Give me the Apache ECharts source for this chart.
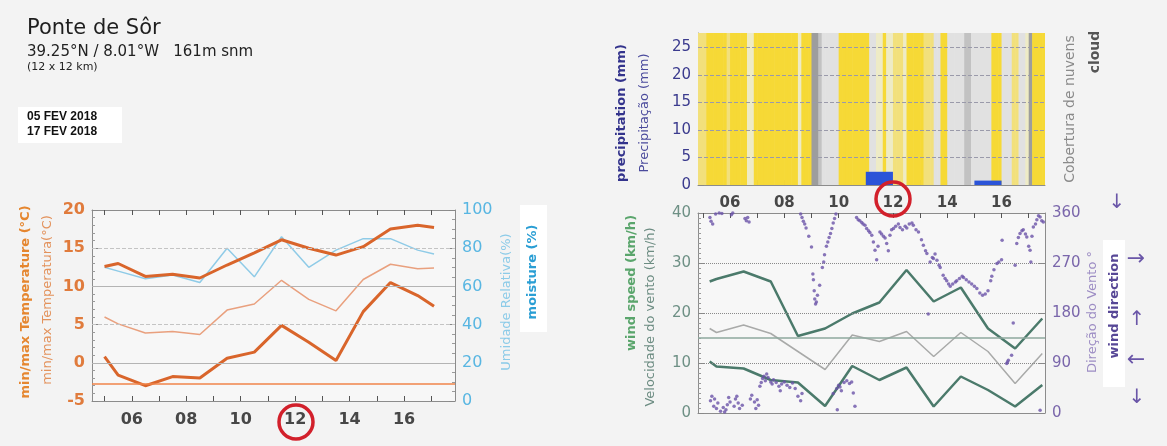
<!DOCTYPE html>
<html>
<head>
<meta charset="utf-8">
<script src="https://cdn.jsdelivr.net/npm/echarts@6/dist/echarts.min.js"></script>
<style>
html,body{margin:0;padding:0;background:#f3f3f3;}
#meteo{width:1167px;height:446px;}
</style>
</head>
<body>
<div id="meteo"></div>
<script>
// eixo dos dias (05..17 FEV)
var dayTicks = [5,6,7,8,9,10,11,12,13,14,15,16,17];
var dayLabels = [6,8,10,12,14,16];

// temperatura (°C) e umidade (%)
var tempDays = [5.0, 5.5, 6.5, 7.5, 8.5, 9.5, 10.5, 11.5, 12.5, 13.5, 14.5, 15.5, 16.5, 17.1];
var tempMax  = [12.6, 13.0, 11.3, 11.6, 11.1, 12.8, 14.4, 16.1, 15.0, 14.1, 15.2, 17.5, 18.0, 17.7];
var tempMean = [6.0, 5.1, 3.9, 4.1, 3.7, 6.9, 7.7, 10.8, 8.3, 6.8, 10.9, 12.9, 12.3, 12.4];
var tempMin  = [0.8, -1.6, -3.0, -1.8, -2.0, 0.6, 1.4, 4.9, 2.7, 0.3, 6.7, 10.5, 8.8, 7.4];
var humidity = [70, 68, 64, 66, 62, 80, 65, 86, 70, 79, 85, 85, 79, 77];
var frostLine = -2.8;

// vento (km/h)
var windDays = [5.25, 5.5, 6.5, 7.5, 8.5, 9.5, 10.5, 11.5, 12.5, 13.5, 14.5, 15.5, 16.5, 17.5];
var windMax  = [26.3, 26.8, 28.3, 26.3, 15.4, 16.9, 19.9, 22.1, 28.6, 22.3, 25.1, 16.9, 12.9, 18.9];
var windMean = [16.9, 16.1, 17.6, 15.9, 12.3, 8.7, 15.6, 14.3, 16.3, 11.3, 16.1, 12.3, 5.9, 11.9];
var windMin  = [10.3, 9.3, 8.9, 6.6, 6.1, 1.4, 9.4, 6.6, 9.1, 1.3, 7.3, 4.6, 1.3, 5.6];
var windRef = 15;

// direcao do vento [dia, graus]
var windDir = [
	[5.26,352],[5.28,22],[5.3,345],[5.33,30],[5.36,340],[5.4,12],[5.43,25],[5.47,358],[5.5,8],[5.55,18],
	[5.6,360],[5.65,3],[5.7,359],[5.75,10],[5.8,2],[5.85,6],[5.9,15],[5.95,28],[6.0,20],[6.05,357],
	[6.1,360],[6.15,12],[6.2,25],[6.25,30],[6.3,18],[6.35,8],[6.45,14],[6.55,350],[6.6,346],[6.65,352],
	[6.7,344],[6.75,25],[6.8,32],[6.9,20],[6.95,8],[7.0,24],[7.05,14],
	[7.1,48],[7.15,55],[7.2,62],[7.25,66],[7.3,58],[7.35,70],[7.4,64],[7.5,56],[7.55,52],[7.6,60],
	[7.7,55],[7.8,48],[7.85,40],[7.9,52],[8.0,56],[8.1,50],[8.2,46],[8.3,54],[8.4,44],[8.5,30],[8.6,22],[8.65,35],
	[8.6,358],[8.65,352],[8.7,345],[8.75,340],[8.8,333],[8.9,318],[9.0,299],[9.05,250],[9.07,240],[9.1,220],
	[9.12,205],[9.15,196],[9.18,200],[9.22,212],[9.3,230],[9.4,262],[9.45,272],[9.48,285],
	[9.55,300],[9.6,308],[9.65,316],[9.7,323],[9.75,332],[9.8,342],[9.85,350],[9.9,358],
	[9.8,35],[9.93,44],[9.95,6],[10.0,50],[10.05,47],[10.1,40],[10.2,55],[10.3,58],[10.4,53],[10.48,56],[10.54,36],[10.6,12],
	[10.66,352],[10.72,348],[10.78,346],[10.85,343],[10.9,340],[10.97,338],[11.03,332],[11.1,328],[11.15,325],[11.22,320],
	[11.28,308],[11.34,293],[11.4,276],[11.45,300],[11.52,326],[11.58,322],[11.65,318],[11.71,315],[11.77,305],[11.83,292],
	[11.89,320],[11.95,330],[12.02,332],[12.1,336],[12.2,340],[12.26,334],[12.35,330],[12.45,336],[12.51,333],[12.6,340],
	[12.7,342],[12.75,338],[12.85,330],[12.94,326],[13.05,312],[13.12,302],[13.2,292],[13.25,287],[13.3,178],[13.37,272],
	[13.45,280],[13.49,278],[13.55,286],[13.62,275],[13.7,266],[13.74,262],[13.85,248],[13.92,242],[13.98,238],[14.05,232],
	[14.11,228],[14.2,232],[14.3,236],[14.35,238],[14.45,242],[14.55,246],[14.6,244],[14.7,240],[14.8,236],[14.9,232],
	[15.0,228],[15.09,224],[15.2,216],[15.3,212],[15.4,214],[15.5,220],[15.6,238],[15.64,246],[15.72,258],[15.83,269],
	[15.9,272],[16.0,276],[16.02,311],[16.19,89],[16.22,92],[16.25,95],[16.37,104],[16.43,162],[16.5,266],[16.56,305],
	[16.62,316],[16.68,323],[16.75,328],[16.8,330],[16.88,322],[16.93,317],[17.0,300],[17.05,293],[17.08,272],[17.12,318],
	[17.17,335],[17.25,340],[17.3,348],[17.36,355],[17.42,353],[17.48,346],[17.54,344],[17.42,5]
];

// precipitacao diaria (mm)
var rainDays = [11, 15];
var rainMm = [2.4, 0.8];
var rainTop = 27.6;

// cobertura de nuvens (%) em passos de 3h a partir de 4.75
var cloudStart = 4.75;
var cloudStep = 0.125;
var cloudCover = [
	20,20,20,0,0,0,0,0,0,20, 0,0,0,0,0, 40,40,
	0,0,0,0,0,0,0,0,0,0,0,0,0, 40, 0,0,0, 100,100, 80, 60,60,60,60,60,
	0,0,0,0,0,0,0,0,0, 60,60, 40,40, 0, 40,40, 20,20,20, 40, 0,0,0,0,0,
	20,20,20, 60,60, 0,0, 60,60,60,60,60, 80,80, 60,60,60,60,60,60,
	0,0,0, 60,60,60, 20,20, 60,60, 40, 100, 0,0,0,0
];

function pad2(v){
	return (v < 10 ? '0' : '') + v;
}
function pairs(xs, ys){
	var out = [];
	for(var i = 0; i < xs.length; i++){
		out.push([xs[i], ys[i]]);
	}
	return out;
}
function cloudColor(c){
	if(c >= 100) return '#9d9d9d';
	if(c >= 80) return '#c2c2c2';
	if(c >= 60) return '#e1e1e1';
	if(c >= 40) return '#eeebc6';
	if(c >= 20) return '#f2e07c';
	return '#f6d936';
}

var cloudData = [];
for(var i = 0; i < cloudCover.length; i++){
	var s = cloudStart + i * cloudStep;
	cloudData.push([s, s + cloudStep, cloudCover[i]]);
}
var rainData = [];
for(var j = 0; j < rainDays.length; j++){
	rainData.push([rainDays[j], rainDays[j] + 1, rainMm[j]]);
}

function clipTo(rect, params){
	var cs = params.coordSys;
	return echarts.graphic.clipRectByRect(rect, {x: cs.x, y: cs.y, width: cs.width, height: cs.height});
}
function renderCloud(params, api){
	var p0 = api.coord([api.value(0), rainTop]);
	var p1 = api.coord([api.value(1), 0]);
	var rect = clipTo({x: p0[0], y: p0[1], width: p1[0] - p0[0] + 0.6, height: p1[1] - p0[1]}, params);
	return rect && {type: 'rect', shape: rect, style: {fill: cloudColor(api.value(2))}};
}
function renderRain(params, api){
	var p0 = api.coord([api.value(0), api.value(2)]);
	var p1 = api.coord([api.value(1), 0]);
	var rect = clipTo({x: p0[0], y: p0[1], width: p1[0] - p0[0], height: p1[1] - p0[1]}, params);
	return rect && {type: 'rect', shape: rect, style: {fill: '#2b54d8'}};
}

function dayAxis(grid, pos, min, max, labels, size){
	return {
		type: 'value', gridIndex: grid, position: pos, min: min, max: max,
		axisLine: {show: true, onZero: false, lineStyle: {color: '#8c8c8c', width: 1}},
		axisTick: {show: true, inside: true, length: 5, customValues: dayTicks, lineStyle: {color: '#555'}},
		axisLabel: {show: labels, customValues: dayLabels, formatter: pad2, color: '#474747',
			fontSize: size, fontWeight: 'bold', fontFamily: 'DejaVu Sans', margin: 11},
		splitLine: {show: false}
	};
}
function valAxis(grid, pos, min, max, interval, minor, color, size, bold){
	return {
		type: 'value', gridIndex: grid, position: pos, min: min, max: max, interval: interval,
		axisLine: {show: true, lineStyle: {color: '#8c8c8c'}},
		axisTick: {show: true, inside: true, length: 6, lineStyle: {color: '#888'}},
		minorTick: {show: minor > 0, splitNumber: minor || 5, length: 3, lineStyle: {color: '#9a9a9a'}},
		axisLabel: {color: color, fontSize: size, fontWeight: bold ? 'bold' : 'normal', fontFamily: 'DejaVu Sans', margin: 7},
		splitLine: {show: false}
	};
}
function hLine(v, color, type, width){
	return {yAxis: v, lineStyle: {color: color, type: type, width: width}};
}
function txt(x, y, text, font, fill, rot){
	return {
		type: 'text', x: x, y: y, rotation: rot ? Math.PI / 2 : 0, silent: true, z: 20,
		style: {text: text, font: font, fill: fill, align: 'center', verticalAlign: 'middle',
			textAlign: 'center', textVerticalAlign: 'middle'}
	};
}
function leftTxt(x, y, text, font, fill){
	var t = txt(x, y, text, font, fill, false);
	t.style.align = 'left';
	t.style.textAlign = 'left';
	return t;
}
function box(x, y, w, h, fill){
	return {type: 'rect', shape: {x: x, y: y, width: w, height: h}, style: {fill: fill}, silent: true, z: 10};
}
function ring(x, y){
	return {type: 'circle', shape: {cx: x, cy: y, r: 17}, style: {fill: 'none', stroke: '#d2202b', lineWidth: 3.5}, silent: true, z: 30};
}

var ax4 = dayAxis(2, 'bottom', 4.82, 17.6, false, 15);
ax4.axisTick.show = false;
var precipY = valAxis(1, 'left', 0, rainTop, 5, 5, '#3b3b8e', 15, false);
precipY.axisLabel.formatter = function(v){ return v % 5 === 0 ? v : ''; };

var myChart = echarts.init(document.getElementById('meteo'));
var option = {
	backgroundColor: '#f3f3f3',
	animation: false,
	grid: [
		{left: 92, top: 210, width: 363, height: 191, show: true, backgroundColor: '#f7f7f7', borderWidth: 0, outerBoundsMode: 'none'},
		{left: 698, top: 33, width: 347, height: 152, show: true, backgroundColor: '#f7f7f7', borderWidth: 0, outerBoundsMode: 'none'},
		{left: 698, top: 213, width: 347, height: 200, show: true, backgroundColor: '#f7f7f7', borderWidth: 0, outerBoundsMode: 'none'}
	],
	xAxis: [
		dayAxis(0, 'bottom', 4.54, 17.87, true, 16),
		dayAxis(0, 'top', 4.54, 17.87, false, 16),
		dayAxis(1, 'bottom', 4.82, 17.6, true, 15),
		dayAxis(2, 'top', 4.82, 17.6, false, 15),
		ax4
	],
	yAxis: [
		valAxis(0, 'left', -5, 20, 5, 5, '#e07b3c', 16, true),
		valAxis(0, 'right', 0, 100, 20, 4, '#58b6e2', 16, false),
		precipY,
		valAxis(2, 'left', 0, 40, 10, 10, '#6e9085', 15, false),
		valAxis(2, 'right', 0, 360, 90, 0, '#7a66ab', 15, false)
	],
	series: [
		// temperatura
		{type: 'line', xAxisIndex: 0, yAxisIndex: 1, data: pairs(tempDays, humidity), showSymbol: false,
			lineStyle: {color: '#8fcbe7', width: 1.5}, z: 2},
		{type: 'line', xAxisIndex: 0, yAxisIndex: 0, data: pairs(tempDays, tempMean), showSymbol: false,
			lineStyle: {color: '#e9a07e', width: 1.5}, z: 3},
		{type: 'line', xAxisIndex: 0, yAxisIndex: 0, data: pairs(tempDays, tempMax), showSymbol: false,
			lineStyle: {color: '#d9652b', width: 3}, z: 4,
			markLine: {silent: true, symbol: ['none', 'none'], label: {show: false}, animation: false,
				data: [hLine(15, '#c4c4c4', 'dashed', 1), hLine(5, '#c4c4c4', 'dashed', 1),
					hLine(10, '#b4b4b4', 'solid', 1), hLine(0, '#b4b4b4', 'solid', 1),
					hLine(frostLine, '#f0854a', 'solid', 1.5)]}},
		{type: 'line', xAxisIndex: 0, yAxisIndex: 0, data: pairs(tempDays, tempMin), showSymbol: false,
			lineStyle: {color: '#d9652b', width: 3}, z: 4},
		// nuvens e precipitacao
		{type: 'custom', xAxisIndex: 2, yAxisIndex: 2, data: cloudData, renderItem: renderCloud, z: 1, silent: true},
		{type: 'custom', xAxisIndex: 2, yAxisIndex: 2, data: rainData, renderItem: renderRain, z: 3, silent: true,
			markLine: {silent: true, symbol: ['none', 'none'], label: {show: false}, animation: false,
				data: [hLine(5, '#9a9aaa', 'dashed', 1), hLine(10, '#9a9aaa', 'dashed', 1), hLine(15, '#9a9aaa', 'dashed', 1),
					hLine(20, '#9a9aaa', 'dashed', 1), hLine(25, '#9a9aaa', 'dashed', 1)]}},
		// vento
		{type: 'line', xAxisIndex: 4, yAxisIndex: 3, data: pairs(windDays, windMean), showSymbol: false,
			lineStyle: {color: '#a9aaa9', width: 1.5}, z: 3,
			markLine: {silent: true, symbol: ['none', 'none'], label: {show: false}, animation: false,
				data: [hLine(10, '#8a8a8a', 'dotted', 1), hLine(20, '#8a8a8a', 'dotted', 1), hLine(30, '#8a8a8a', 'dotted', 1),
					hLine(windRef, '#8ea89e', 'solid', 1.5)]}},
		{type: 'line', xAxisIndex: 4, yAxisIndex: 3, data: pairs(windDays, windMax), showSymbol: false,
			lineStyle: {color: '#4b7a6b', width: 2.5}, z: 4},
		{type: 'line', xAxisIndex: 4, yAxisIndex: 3, data: pairs(windDays, windMin), showSymbol: false,
			lineStyle: {color: '#4b7a6b', width: 2.5}, z: 4},
		{type: 'scatter', xAxisIndex: 4, yAxisIndex: 4, data: windDir, symbolSize: 3.5,
			itemStyle: {color: '#6a53a8'}, z: 5, silent: true}
	],
	graphic: [
		leftTxt(27, 29, 'Ponte de Sôr', '21px DejaVu Sans', '#1e1e1e'),
		leftTxt(27, 52, '39.25°N / 8.01°W   161m snm', '15px DejaVu Sans', '#222'),
		leftTxt(27, 67, '(12 x 12 km)', '11px DejaVu Sans', '#222'),
		box(18, 107, 104, 36, '#ffffff'),
		leftTxt(27, 117, '05 FEV 2018', 'bold 12px Liberation Sans', '#111'),
		leftTxt(27, 132, '17 FEV 2018', 'bold 12px Liberation Sans', '#111'),

		txt(26, 302, 'min/max Temperature (°C)', 'bold 13px DejaVu Sans', '#e5862f', true),
		txt(48, 300, 'min/max Temperatura(°C)', '13px DejaVu Sans', '#e3925c', true),
		txt(507, 302, 'Umidade Relativa(%)', '13px DejaVu Sans', '#8ccbe8', true),
		box(520, 205, 27, 127, '#ffffff'),
		txt(533, 272, 'moisture (%)', 'bold 13px DejaVu Sans', '#2a9ed4', true),

		txt(622, 113, 'precipitation (mm)', 'bold 13px DejaVu Sans', '#33338c', true),
		txt(645, 113, 'Precipitação (mm)', '13px DejaVu Sans', '#4a4a9c', true),
		txt(1070, 109, 'Cobertura de nuvens', '14px DejaVu Sans', '#8a8a8a', true),
		txt(1095, 52, 'cloud', 'bold 14px DejaVu Sans', '#555', true),

		txt(632, 283, 'wind speed (km/h)', 'bold 13px DejaVu Sans', '#5aa56c', true),
		txt(651, 317, 'Velocidade do vento (km/h)', '13px DejaVu Sans', '#6c8c82', true),
		txt(1093, 312, 'Direção do Vento °', '13px DejaVu Sans', '#9d8dc4', true),
		box(1103, 240, 22, 147, '#ffffff'),
		txt(1115, 306, 'wind direction', 'bold 13px DejaVu Sans', '#574796', true),

		txt(1117, 203, '↓', '20px DejaVu Sans', '#6a56a8', false),
		txt(1136, 259, '→', '22px DejaVu Sans', '#6a56a8', false),
		txt(1137, 320, '↑', '20px DejaVu Sans', '#6a56a8', false),
		txt(1136, 360, '←', '22px DejaVu Sans', '#6a56a8', false),
		txt(1137, 398, '↓', '20px DejaVu Sans', '#6a56a8', false),

		ring(296, 422),
		ring(893, 199)
	]
};
myChart.setOption(option);
</script>
</body>
</html>
